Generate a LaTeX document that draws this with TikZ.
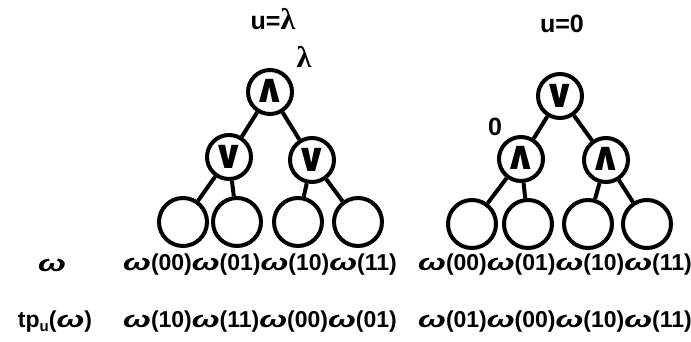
\documentclass[tikz,border=0pt]{standalone}
\usepackage{fontspec}
\setmainfont{Liberation Sans}
\newfontfamily\symf{DejaVu Sans}
\newfontfamily\lamf{Liberation Serif}
\newcommand\om{\scalebox{1.45}[1]{\itshape ω}}
\newcommand\lam{{\lamf\bfseries\fontsize{30}{30}\selectfont λ}}
\begin{document}
\begin{tikzpicture}[x=1pt,y=-1pt,
  opnode/.style={circle,draw,line width=4pt,minimum size=44pt,inner sep=0pt,
    font=\symf\bfseries\fontsize{40}{40}\selectfont},
  leafnode/.style={circle,draw,line width=4pt,minimum size=48pt,inner sep=0pt},
  edge/.style={line width=4pt},
  lbl/.style={font=\bfseries\fontsize{25}{27}\selectfont,inner sep=0pt},
  rowtxt/.style={font=\bfseries\fontsize{23}{26}\selectfont,inner sep=0pt}]
\useasboundingbox (0,0) rectangle (691,342);
% left tree
\node[lbl] (t1) at (273,19) {u=\lam};
\node[lbl] (l1) at (304,57) {\lam};
\node[opnode] (A) at (270,92) {\raisebox{2pt}{∧}};
\node[opnode] (B1) at (229,157) {\raisebox{-1pt}{∨}};
\node[opnode] (B2) at (312,160) {\raisebox{-1pt}{∨}};
\node[leafnode] (L1) at (183,222) {};
\node[leafnode] (L2) at (237,222) {};
\node[leafnode] (L3) at (298,222) {};
\node[leafnode] (L4) at (358,222) {};
\draw[edge] (A) -- (B1);
\draw[edge] (A) -- (B2);
\draw[edge] (B1) -- (L1);
\draw[edge] (B1) -- (L2);
\draw[edge] (B2) -- (L3);
\draw[edge] (B2) -- (L4);
% right tree
\node[lbl] (t2) at (562,24) {u=0};
\node[lbl] (l2) at (495,127) {0};
\node[opnode] (R) at (560,96) {\raisebox{-1pt}{∨}};
\node[opnode] (C1) at (521,159) {\raisebox{2pt}{∧}};
\node[opnode] (C2) at (606,160) {\raisebox{2pt}{∧}};
\node[leafnode] (M1) at (472,224) {};
\node[leafnode] (M2) at (528,224) {};
\node[leafnode] (M3) at (588,224) {};
\node[leafnode] (M4) at (647,224) {};
\draw[edge] (R) -- (C1);
\draw[edge] (R) -- (C2);
\draw[edge] (C1) -- (M1);
\draw[edge] (C1) -- (M2);
\draw[edge] (C2) -- (M3);
\draw[edge] (C2) -- (M4);
% rows
\node[rowtxt] (w) at (52,265) {\om};
\node[rowtxt] (tp) at (55,322) {tp\raisebox{-4pt}{\fontsize{15}{15}\selectfont u}(\om)};
\node[rowtxt] (r1) at (260,265) {\om(00)\om(01)\om(10)\om(11)};
\node[rowtxt] (r2) at (555,265) {\om(00)\om(01)\om(10)\om(11)};
\node[rowtxt] (r3) at (260,322) {\om(10)\om(11)\om(00)\om(01)};
\node[rowtxt] (r4) at (555,322) {\om(01)\om(00)\om(10)\om(11)};
\end{tikzpicture}
\end{document}
